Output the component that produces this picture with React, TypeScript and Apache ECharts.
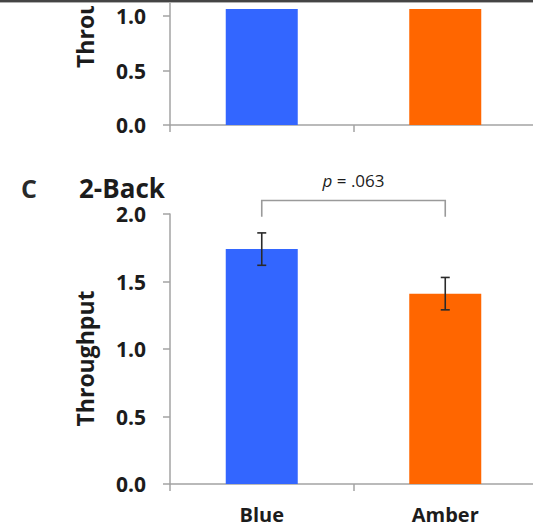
import React, { useEffect, useRef } from "react";
import * as echarts from "echarts";

// Conditions shown on the x axis
const categories = ["Blue", "Amber"];
// Lower panel (2-Back): mean throughput and standard error
const backMeans = [1.74, 1.41];
const backErrors = [0.12, 0.12];
// Upper panel: bars run past the top of the visible area
const upperMeans = [1.55, 1.5];
const upperErrors = [0.1, 0.1];
// Y tick values shared by both panels
const yMin = 0;
const yMax = 2;
const yStep = 0.5;
// Significance bracket between the two conditions
const bracketLevel = [2.1];
const bracketFoot = [1.98];
const bracketTextLevel = [2.25];
const pLabel = ".063";

const barColors = ["#3366ff", "#ff6600"];
const axisGray = "#a3a3a3";
const textDark = "#1c1c1c";
const font = "Open Sans";

function errorBarItem(params: any, api: any) {
  const x = api.value(0);
  const y = api.value(1);
  const e = api.value(2);
  const top = api.coord([x, y + e]);
  const bot = api.coord([x, y - e]);
  const half = 4.5;
  const style = { stroke: "#2a2a2a", lineWidth: 1.6 };
  return {
    type: "group",
    children: [
      { type: "line", shape: { x1: top[0], y1: top[1], x2: bot[0], y2: bot[1] }, style },
      { type: "line", shape: { x1: top[0] - half, y1: top[1], x2: top[0] + half, y2: top[1] }, style },
      { type: "line", shape: { x1: bot[0] - half, y1: bot[1], x2: bot[0] + half, y2: bot[1] }, style },
    ],
  };
}

function bracketItem(params: any, api: any) {
  const a = api.value(0);
  const b = api.value(1);
  const lvl = api.value(2);
  const foot = api.value(3);
  const tl = api.value(4);
  const p0 = api.coord([a, lvl]);
  const p1 = api.coord([b, lvl]);
  const f0 = api.coord([a, foot]);
  const f1 = api.coord([b, foot]);
  const t = api.coord([a, tl]);
  return {
    type: "group",
    children: [
      {
        type: "polyline",
        shape: { points: [[f0[0], f0[1]], [p0[0], p0[1]], [p1[0], p1[1]], [f1[0], f1[1]]] },
        style: { stroke: "#9a9a9a", lineWidth: 1.6, fill: null },
      },
      {
        type: "text",
        x: (p0[0] + p1[0]) / 2,
        y: t[1],
        style: {
          rich: {
            i: { fontStyle: "italic", fontFamily: font, fontSize: 17, fill: textDark },
            n: { fontFamily: font, fontSize: 17, fill: textDark },
          },
          text: "{i|p}{n| = " + pLabel + "}",
          align: "center",
          verticalAlign: "middle",
        },
      },
    ],
  };
}

function yAxisFor(gridIndex: number) {
  return {
    type: "value",
    gridIndex,
    min: yMin,
    max: yMax,
    interval: yStep,
    splitLine: { show: false },
    axisLine: { show: true, lineStyle: { color: axisGray, width: 1.5 } },
    axisTick: { show: true, length: 7, lineStyle: { color: axisGray, width: 1.5 } },
    axisLabel: {
      fontFamily: font,
      fontWeight: "bold",
      fontSize: 21,
      color: textDark,
      margin: 24,
      formatter: (v: number) => v.toFixed(1),
    },
  };
}

function xAxisFor(gridIndex: number, showLabels: boolean) {
  return {
    type: "category",
    gridIndex,
    data: categories,
    axisLine: { show: true, lineStyle: { color: axisGray, width: 1.5 } },
    axisTick: { show: true, length: 7, lineStyle: { color: axisGray, width: 1.5 } },
    axisLabel: {
      show: showLabels,
      fontFamily: font,
      fontWeight: "bold",
      fontSize: 20,
      color: textDark,
      margin: 20,
    },
  };
}

function barData(values: number[]) {
  return values.map((v, i) => ({ value: v, itemStyle: { color: barColors[i] } }));
}

export default function App() {
  const ref = useRef<HTMLDivElement>(null);

  useEffect(() => {
    if (!ref.current) return;
    const chart = echarts.init(ref.current, null, { renderer: "svg" });
    chart.setOption({
      animation: false,
      backgroundColor: "#ffffff",
      grid: [
        { left: 170, top: -93, width: 367, height: 218, outerBoundsMode: "none", containLabel: false },
        { left: 170, top: 214, width: 367, height: 270, outerBoundsMode: "none", containLabel: false },
      ],
      xAxis: [xAxisFor(0, false), xAxisFor(1, true)],
      yAxis: [yAxisFor(0), yAxisFor(1)],
      series: [
        {
          type: "bar",
          xAxisIndex: 0,
          yAxisIndex: 0,
          barWidth: 72,
          data: barData(upperMeans),
        },
        {
          type: "custom",
          xAxisIndex: 0,
          yAxisIndex: 0,
          renderItem: errorBarItem,
          data: upperMeans.map((m, i) => [i, m, upperErrors[i]]),
          z: 3,
        },
        {
          type: "bar",
          xAxisIndex: 1,
          yAxisIndex: 1,
          barWidth: 72,
          data: barData(backMeans),
        },
        {
          type: "custom",
          xAxisIndex: 1,
          yAxisIndex: 1,
          renderItem: errorBarItem,
          data: backMeans.map((m, i) => [i, m, backErrors[i]]),
          z: 3,
        },
        {
          type: "custom",
          xAxisIndex: 1,
          yAxisIndex: 1,
          renderItem: bracketItem,
          data: [[0, 1, bracketLevel[0], bracketFoot[0], bracketTextLevel[0]]],
          z: 3,
        },
      ],
      graphic: [
        // page strip above the upper panel
        { type: "rect", left: 200, top: 2, shape: { width: 333, height: 7 }, style: { fill: "#ffffff" }, z: 50 },
        { type: "rect", left: 60, top: 2, shape: { width: 45, height: 4 }, style: { fill: "#ffffff" }, z: 50 },
        { type: "rect", left: 0, top: 0, shape: { width: 533, height: 2 }, style: { fill: "#444444" }, z: 60 },
        { type: "rect", left: 0, top: 2, shape: { width: 533, height: 1 }, style: { fill: "#b0b0b0" }, z: 60 },
        // axis titles
        {
          type: "text",
          x: 85,
          y: 0,
          rotation: Math.PI / 2,
          style: {
            text: "Throughput",
            fontFamily: font,
            fontWeight: "bold",
            fontSize: 23,
            fill: textDark,
            align: "center",
            verticalAlign: "middle",
          },
          z: 40,
        },
        {
          type: "text",
          x: 85,
          y: 358.5,
          rotation: Math.PI / 2,
          style: {
            text: "Throughput",
            fontFamily: font,
            fontWeight: "bold",
            fontSize: 23,
            fill: textDark,
            align: "center",
            verticalAlign: "middle",
          },
          z: 40,
        },
        // panel letter and title
        {
          type: "text",
          x: 21,
          y: 188,
          style: {
            text: "C",
            fontFamily: font,
            fontWeight: "bold",
            fontSize: 25,
            fill: "#2a2a2a",
            align: "left",
            verticalAlign: "middle",
          },
        },
        {
          type: "text",
          x: 79,
          y: 188,
          style: {
            text: "2-Back",
            fontFamily: font,
            fontWeight: "bold",
            fontSize: 26,
            fill: textDark,
            align: "left",
            verticalAlign: "middle",
          },
        },
      ],
    });
    return () => chart.dispose();
  }, []);

  return (
    <div
      ref={ref}
      style={{ position: "absolute", left: 0, top: 0, width: 533, height: 526, background: "#fff" }}
    />
  );
}
